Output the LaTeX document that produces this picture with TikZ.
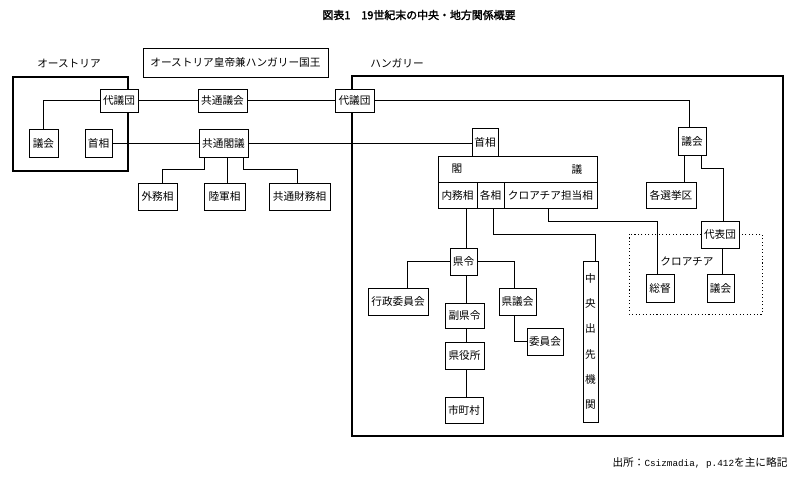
\documentclass[tikz,border=0pt]{standalone}
\usepackage{fontspec}
\setmainfont{Noto Sans CJK JP}[AutoFakeBold=2]
\newfontfamily\lmono{Liberation Mono}
\usetikzlibrary{backgrounds}
\newcommand\bxnode[6]{\node[box, minimum width={(#4-#2)*0.75pt}, minimum height={(#5-#3)*0.75pt}] (#1) at ({(#2+#4)/2},{(#3+#5)/2}) {#6};}
\begin{document}
\begin{tikzpicture}[x=0.75pt,y=-0.75pt,
  box/.style={draw, line width=0.7pt, fill=white, inner sep=0pt, font=\fontsize{8}{9}\selectfont},
  lbl/.style={inner sep=0pt, font=\fontsize{8}{9}\selectfont},
  conn/.style={line width=0.6pt},
  frame/.style={line width=2.2pt},
  dotframe/.style={line width=0.6pt, dash pattern=on 0.8pt off 1.8pt}]
\useasboundingbox (0,0) rectangle (800,493);

% title, labels
\node[lbl, font=\fontsize{8.2}{10}\selectfont\bfseries] (title) at (419,15) {図表1　19世紀末の中央・地方関係概要};
\node[lbl] (austriaLbl) at (69,64) {オーストリア};
\node[lbl] (hungaryLbl) at (397,63) {ハンガリー};
\node[lbl, fill=white, inner sep=1pt] (croatiaLbl) at (687,261) {クロアチア};
\node[lbl] (source) at (700,463) {出所：{\lmono\fontsize{7}{9}\selectfont Csizmadia, p.412}を主に略記};

% boxes
\bxnode{emperor}{143}{48}{328}{77}{オーストリア皇帝兼ハンガリー国王}
\bxnode{aDai}{100}{89}{138}{112}{代議団}
\bxnode{aGikai}{29}{129}{58}{157}{議会}
\bxnode{aShusho}{85}{129}{112}{157}{首相}
\bxnode{kyoGikai}{198}{89}{247}{112}{共通議会}
\bxnode{hDai}{335}{89}{374}{112}{代議団}
\bxnode{kyoKakugi}{199}{129}{248}{157}{共通閣議}
\bxnode{gaimu}{138}{183}{177}{210}{外務相}
\bxnode{rikugun}{204}{183}{245}{210}{陸軍相}
\bxnode{zaimu}{269}{183}{330}{210}{共通財務相}
\bxnode{hGikai}{678}{127}{706}{155}{議会}
\bxnode{senkyoku}{646}{182}{696}{208}{各選挙区}
\bxnode{hShusho}{472}{128}{498}{156}{首相}
\bxnode{kakugi}{438}{156}{597}{182}{}
\node[lbl] (kakuL) at (457,169) {閣};
\node[lbl] (kakuR) at (577,169) {議};
\bxnode{naimu}{438}{182}{477}{208}{内務相}
\bxnode{kakusho}{477}{182}{504}{208}{各相}
\bxnode{croat}{504}{182}{597}{208}{クロアチア担当相}
\bxnode{daihyo}{701}{221}{739}{248}{代表団}
\bxnode{soutoku}{646}{274}{674}{302}{総督}
\bxnode{crGikai}{707}{274}{734}{302}{議会}
\bxnode{kenrei}{450}{248}{477}{275}{県令}
\bxnode{gyosei}{368}{288}{428}{315}{行政委員会}
\bxnode{kengikai}{499}{288}{536}{315}{県議会}
\bxnode{iinkai}{527}{328}{563}{355}{委員会}
\bxnode{fukukenrei}{445}{303}{484}{328}{副県令}
\bxnode{kenyakusho}{445}{342}{484}{369}{県役所}
\bxnode{shichoson}{445}{397}{483}{423}{市町村}
\node[box, align=center, font=\fontsize{8}{18.9}\selectfont, minimum width={15*0.75pt}, minimum height={161*0.75pt}] (chuo) at (590.5,341.5) {中\\央\\出\\先\\機\\関};

% frames and connectors behind boxes
\begin{scope}[on background layer]
\fill[white] (0,0) rectangle (800,493);
\draw[frame] (13,77) rectangle (128,171);
\draw[frame] (352,76) rectangle (783,436);
\draw[dotframe] (629,234) rectangle (762,314);

\draw[conn] (aDai.west) -| (aGikai.north);
\draw[conn] (aDai.east) -- (kyoGikai.west);
\draw[conn] (kyoGikai.east) -- (hDai.west);
\draw[conn] (hDai.east) -| (hGikai.north -| 689,0);
\draw[conn] (aShusho.east) -- (kyoKakugi.west);
\draw[conn] (kyoKakugi.east) -- (kyoKakugi.east -| hShusho.west);
\draw[conn] (kyoKakugi.south -| 204,0) |- (162,169) -- (gaimu.north -| 162,0);
\draw[conn] (kyoKakugi.south -| 227,0) -- (rikugun.north -| 227,0);
\draw[conn] (kyoKakugi.south -| 243,0) |- (297,169) -- (zaimu.north -| 297,0);
\draw[conn] (hGikai.south -| 684,0) -- (senkyoku.north -| 684,0);
\draw[conn] (hGikai.south -| 701,0) |- (723,168) -- (daihyo.north -| 723,0);
\draw[conn] (daihyo.south -| 722,0) -- (crGikai.north -| 722,0);
\draw[conn] (naimu.south -| 466,0) -- (kenrei.north -| 466,0);
\draw[conn] (kakusho.south -| 493,0) |- (595,234) -- (chuo.north -| 595,0);
\draw[conn] (croat.south -| 548,0) |- (657,221) -- (soutoku.north -| 657,0);
\draw[conn] (kenrei.west) -| (gyosei.north -| 407,0);
\draw[conn] (kenrei.east) -| (kengikai.north -| 514,0);
\draw[conn] (kengikai.south -| 514,0) |- (iinkai.west);
\draw[conn] (kenrei.south -| 466,0) -- (fukukenrei.north -| 466,0);
\draw[conn] (fukukenrei.south -| 466,0) -- (kenyakusho.north -| 466,0);
\draw[conn] (kenyakusho.south -| 466,0) -- (shichoson.north -| 466,0);
\end{scope}
\end{tikzpicture}
\end{document}
